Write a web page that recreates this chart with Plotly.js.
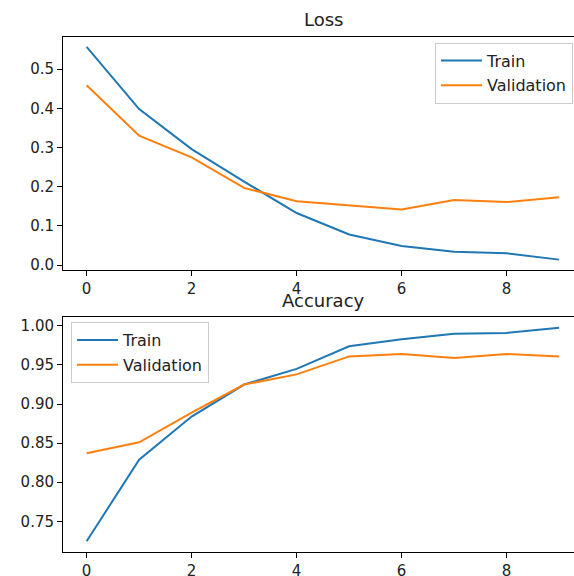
<!DOCTYPE html>
<html>
<head>
<meta charset="utf-8">
<script src="https://cdn.plot.ly/plotly-3.0.1.min.js"></script>
<style>html,body{margin:0;padding:0;background:#fff;}#chart{width:574px;height:576px;}</style>
</head>
<body>
<div id="chart"></div>
<script>
const epochs = [0, 1, 2, 3, 4, 5, 6, 7, 8, 9];
const lossTrain = [0.557, 0.398, 0.296, 0.213, 0.133, 0.078, 0.049, 0.034, 0.030, 0.014];
const lossVal = [0.459, 0.330, 0.275, 0.197, 0.163, 0.152, 0.142, 0.166, 0.161, 0.173];
const accTrain = [0.7245, 0.8287, 0.884, 0.925, 0.945, 0.974, 0.983, 0.990, 0.991, 0.9975];
const accVal = [0.837, 0.851, 0.889, 0.925, 0.938, 0.961, 0.964, 0.959, 0.964, 0.961];
const seriesNames = ["Train", "Validation"];
const titles = ["Loss", "Accuracy"];

const blue = "#1f77b4", orange = "#ff7f0e";
const font = {family: "DejaVu Sans", size: 15, color: "#222"};
const legendFont = {family: "DejaVu Sans", size: 16, color: "#222"};

const traces = [
  {x: epochs, y: lossTrain, name: seriesNames[0], xaxis: "x", yaxis: "y", legend: "legend", legendgroup: "a",
   mode: "lines", line: {color: blue, width: 2}},
  {x: epochs, y: lossVal, name: seriesNames[1], xaxis: "x", yaxis: "y", legend: "legend", legendgroup: "b",
   mode: "lines", line: {color: orange, width: 2}},
  {x: epochs, y: accTrain, name: seriesNames[0], xaxis: "x2", yaxis: "y2", legend: "legend2", legendgroup: "c",
   mode: "lines", line: {color: blue, width: 2}},
  {x: epochs, y: accVal, name: seriesNames[1], xaxis: "x2", yaxis: "y2", legend: "legend2", legendgroup: "d",
   mode: "lines", line: {color: orange, width: 2}}
];

const H = 576, T = 37, B = 24.3;
const ph = H - T - B;
const py = v => (H - B - v) / ph;

const xBase = {
  range: [-0.45, 9.283], tickmode: "linear", tick0: 0, dtick: 2,
  showline: true, linecolor: "#000", linewidth: 1, mirror: true,
  ticks: "outside", ticklen: 5, tickwidth: 1, tickcolor: "#000",
  showgrid: false, zeroline: false, automargin: false, tickfont: font
};
const yBase = {
  showline: true, linecolor: "#000", linewidth: 1, mirror: false,
  ticks: "outside", ticklen: 5, tickwidth: 1, tickcolor: "#000",
  showgrid: false, zeroline: false, automargin: false, tickfont: font
};

const legendBase = {
  bgcolor: "rgba(255,255,255,0.8)", bordercolor: "#cccccc", borderwidth: 1,
  font: legendFont, xanchor: "left", yanchor: "top", tracegroupgap: 1, itemwidth: 41,
  xref: "paper", yref: "paper"
};

const layout = {
  width: 574, height: 576,
  margin: {l: 63, r: 0, t: T, b: B, pad: 0},
  paper_bgcolor: "#fff", plot_bgcolor: "#fff",
  font: font,
  showlegend: true,
  xaxis: Object.assign({}, xBase, {domain: [0, 1], anchor: "y"}),
  yaxis: Object.assign({}, yBase, {domain: [py(270), 1], anchor: "x", range: [-0.0128, 0.582],
    tickmode: "linear", tick0: 0, dtick: 0.1, tickformat: ".1f"}),
  xaxis2: Object.assign({}, xBase, {domain: [0, 1], anchor: "y2"}),
  yaxis2: Object.assign({}, yBase, {domain: [0, py(317.3)], anchor: "x2", range: [0.7107, 1.0108],
    tickmode: "linear", tick0: 0.75, dtick: 0.05, tickformat: ".2f"}),
  legend: Object.assign({}, legendBase, {x: (435 - 63) / 511, y: py(42.5)}),
  legend2: Object.assign({}, legendBase, {x: (71 - 63) / 511, y: py(322)}),
  annotations: [
    {text: titles[0], xref: "paper", yref: "paper", x: (323 - 63) / 511, y: py(20), xanchor: "center", yanchor: "middle",
     showarrow: false, font: {family: "DejaVu Sans", size: 18, color: "#222"}},
    {text: titles[1], xref: "paper", yref: "paper", x: (323 - 63) / 511, y: py(300), xanchor: "center", yanchor: "middle",
     showarrow: false, font: {family: "DejaVu Sans", size: 18, color: "#222"}}
  ]
};

Plotly.newPlot("chart", traces, layout, {displayModeBar: false, staticPlot: true});
</script>
</body>
</html>
